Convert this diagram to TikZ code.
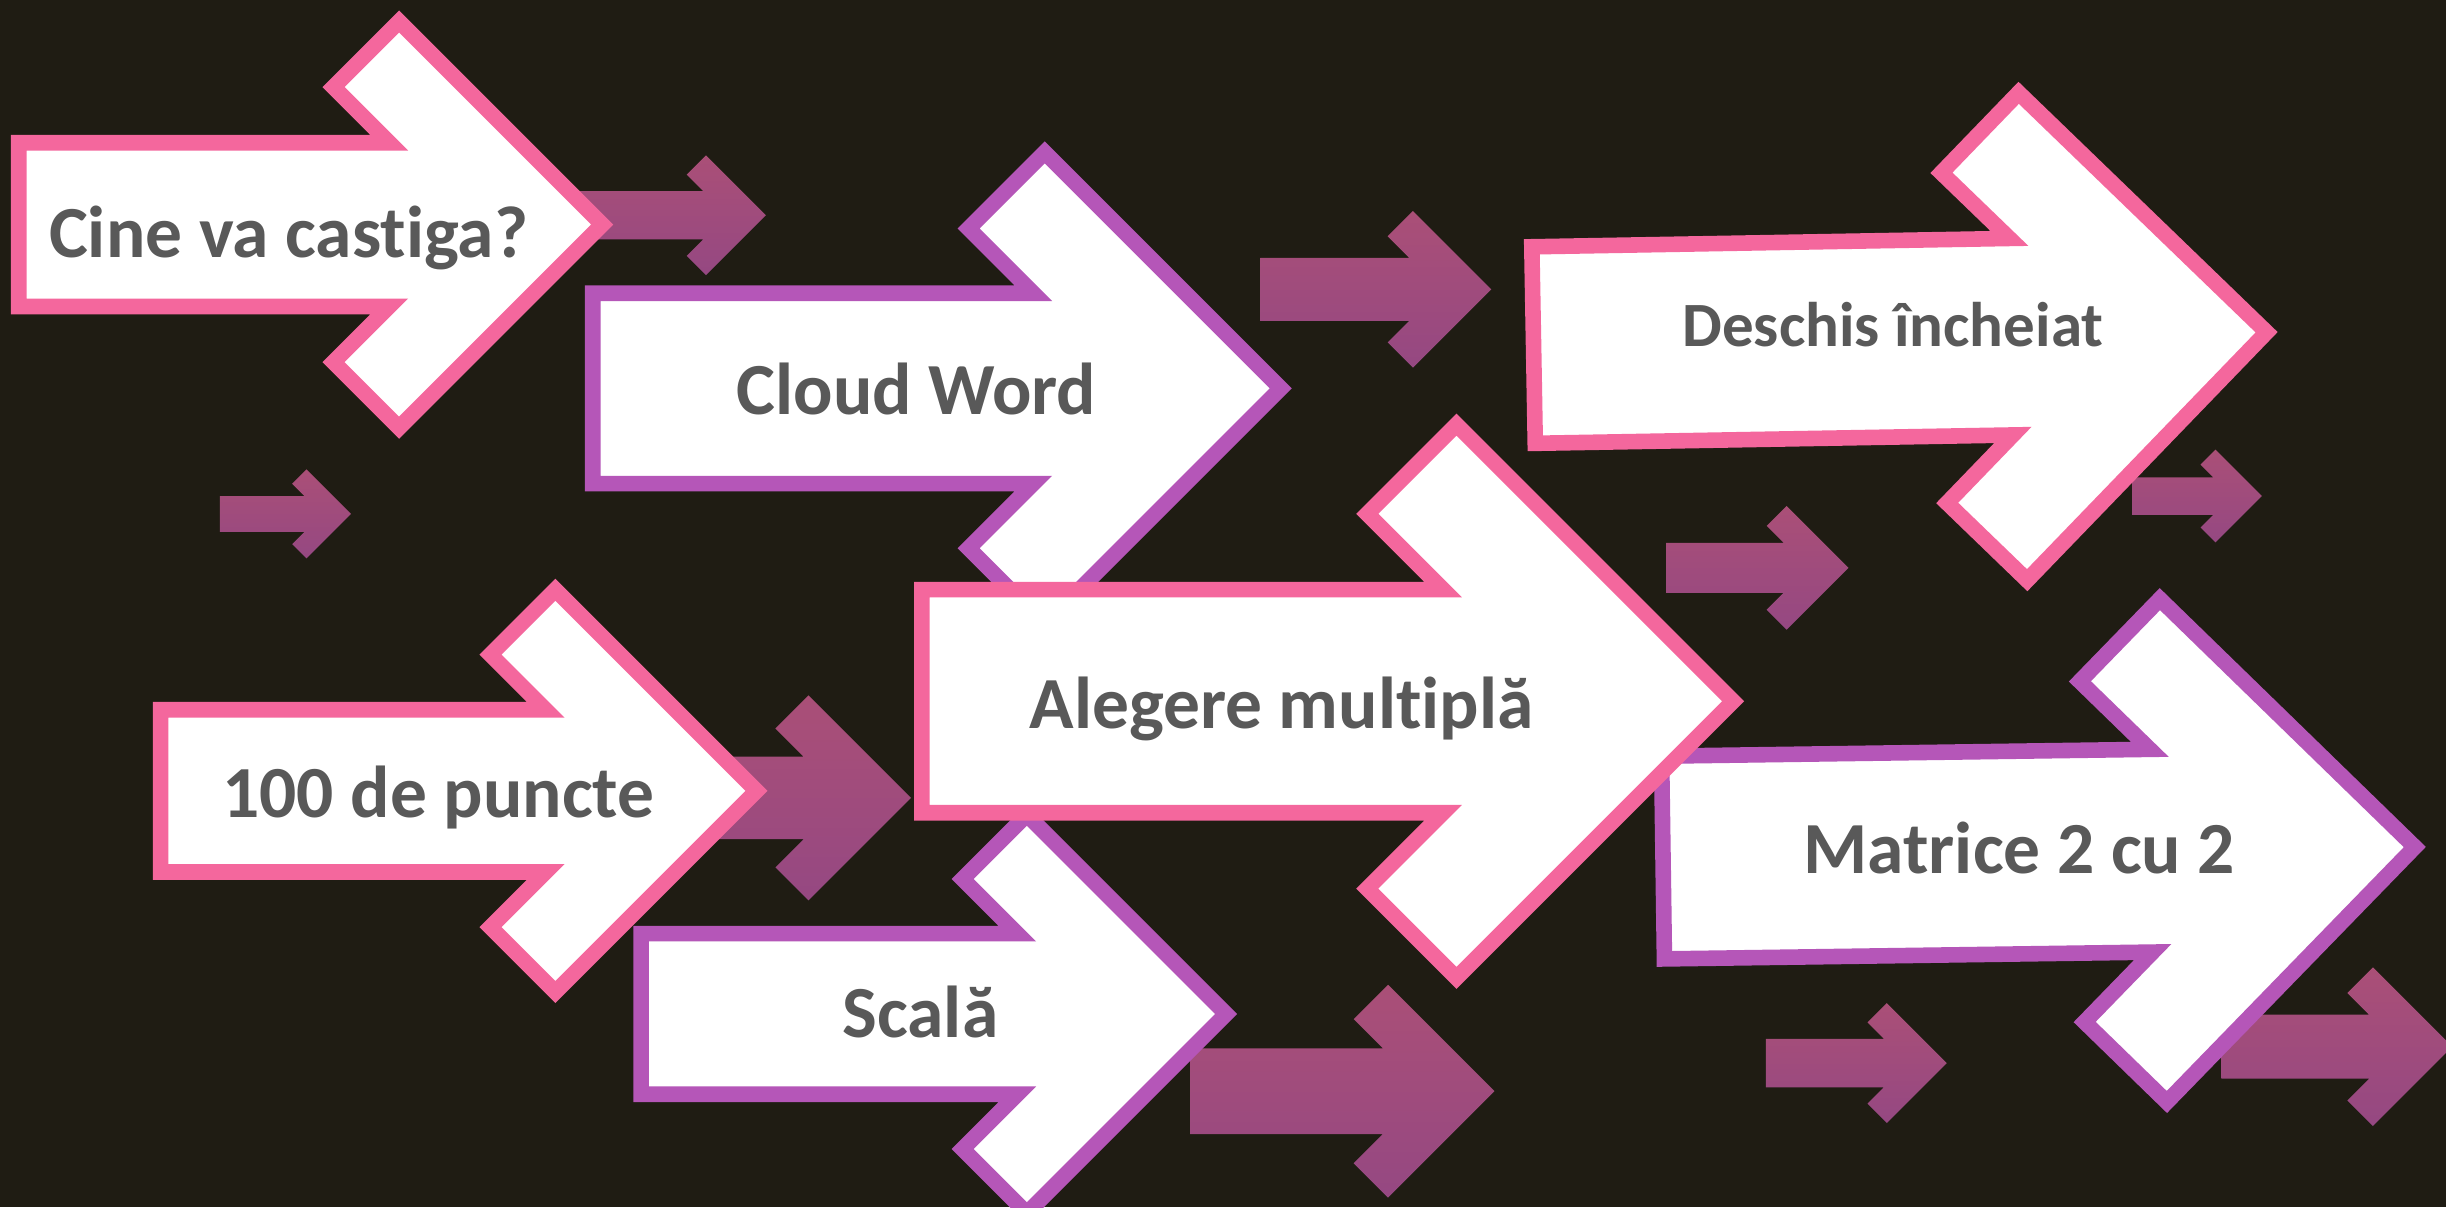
\documentclass[tikz,border=0pt]{standalone}
\usepackage{fontspec}
\setmainfont{Carlito}[Ligatures={NoCommon}]
\definecolor{bg}{HTML}{1F1C13}
\definecolor{pinkc}{HTML}{F4679D}
\definecolor{purpc}{HTML}{B556B8}
\definecolor{txt}{HTML}{595959}
\definecolor{gtop}{HTML}{AA4F77}
\definecolor{gbot}{HTML}{954882}
% #1 tip x, #2 centre y, #3 shaft height, #4 shaft left x, #5 rotation, #6 style
\newcommand{\chevarrow}[6]{%
\path[#6, rotate around={#5:(#1,#2)}]
 (#4,{#2-0.5*#3}) -- ({#1-1.30*#3},{#2-0.5*#3}) -- ({#1-1.64*#3},{#2-0.84*#3})
 -- ({#1-1.24*#3},{#2-1.24*#3}) -- (#1,#2) -- ({#1-1.24*#3},{#2+1.24*#3})
 -- ({#1-1.64*#3},{#2+0.84*#3}) -- ({#1-1.30*#3},{#2+0.5*#3}) -- (#4,{#2+0.5*#3}) -- cycle;}
\tikzset{
  bigpink/.style={draw=pinkc, fill=white, line width=1mm, miter limit=10},
  bigpurp/.style={draw=purpc, fill=white, line width=1mm, miter limit=10},
  smallarr/.style={top color=gtop, bottom color=gbot, draw=none},
  lbl/.style={anchor=base, inner sep=0pt, text=txt, font=\bfseries\fontsize{13.4}{16}\selectfont},
  lblsmall/.style={lbl, font=\bfseries\fontsize{11.5}{14}\selectfont}
}
\begin{document}
\begin{tikzpicture}[x=0.1mm, y=-0.1mm]
\fill[bg] (0,0) rectangle (1568,774);
\useasboundingbox (0,0) rectangle (1568,774);
% small gradient arrows
\chevarrow{491}{138}{31}{360}{0}{smallarr}
\chevarrow{956}{185.5}{40.5}{808}{0}{smallarr}
\chevarrow{225}{329.5}{23}{141}{0}{smallarr}
\chevarrow{1185}{364}{32}{1068}{0}{smallarr}
\chevarrow{1450}{318}{24}{1367}{0}{smallarr}
\chevarrow{584}{511.5}{53}{440}{0}{smallarr}
\chevarrow{958}{699.5}{55}{763}{0}{smallarr}
\chevarrow{1248}{681.5}{31}{1132}{0}{smallarr}
\chevarrow{1572}{671}{41}{1424}{0}{smallarr}
% big arrows
\chevarrow{786}{650}{103}{411}{0}{bigpurp}
\chevarrow{485}{507}{104}{103}{0}{bigpink}
\chevarrow{821}{249}{122}{380}{0}{bigpurp}
\chevarrow{386}{144}{105}{12}{0}{bigpink}
\chevarrow{1453}{213}{126}{983}{1}{bigpink}
\chevarrow{1548}{543}{130}{1066}{0.8}{bigpurp}
\chevarrow{1111}{449.5}{143}{591}{0}{bigpink}
% labels
\node[lbl] (t1) at (185,165) {Cine va castiga?};
\node[lbl] (t2) at (587.5,266) {Cloud Word};
\node[lblsmall] (t3) at (1213.5,222) {Deschis încheiat};
\node[lbl] (t4) at (281,524) {100 de puncte};
\node[lbl] (t5) at (821.5,467) {Alegere multiplă};
\node[lbl] (t6) at (590,665) {Scală};
\node[lbl] (t7) at (1294.5,560) {Matrice 2 cu 2};
\end{tikzpicture}
\end{document}
